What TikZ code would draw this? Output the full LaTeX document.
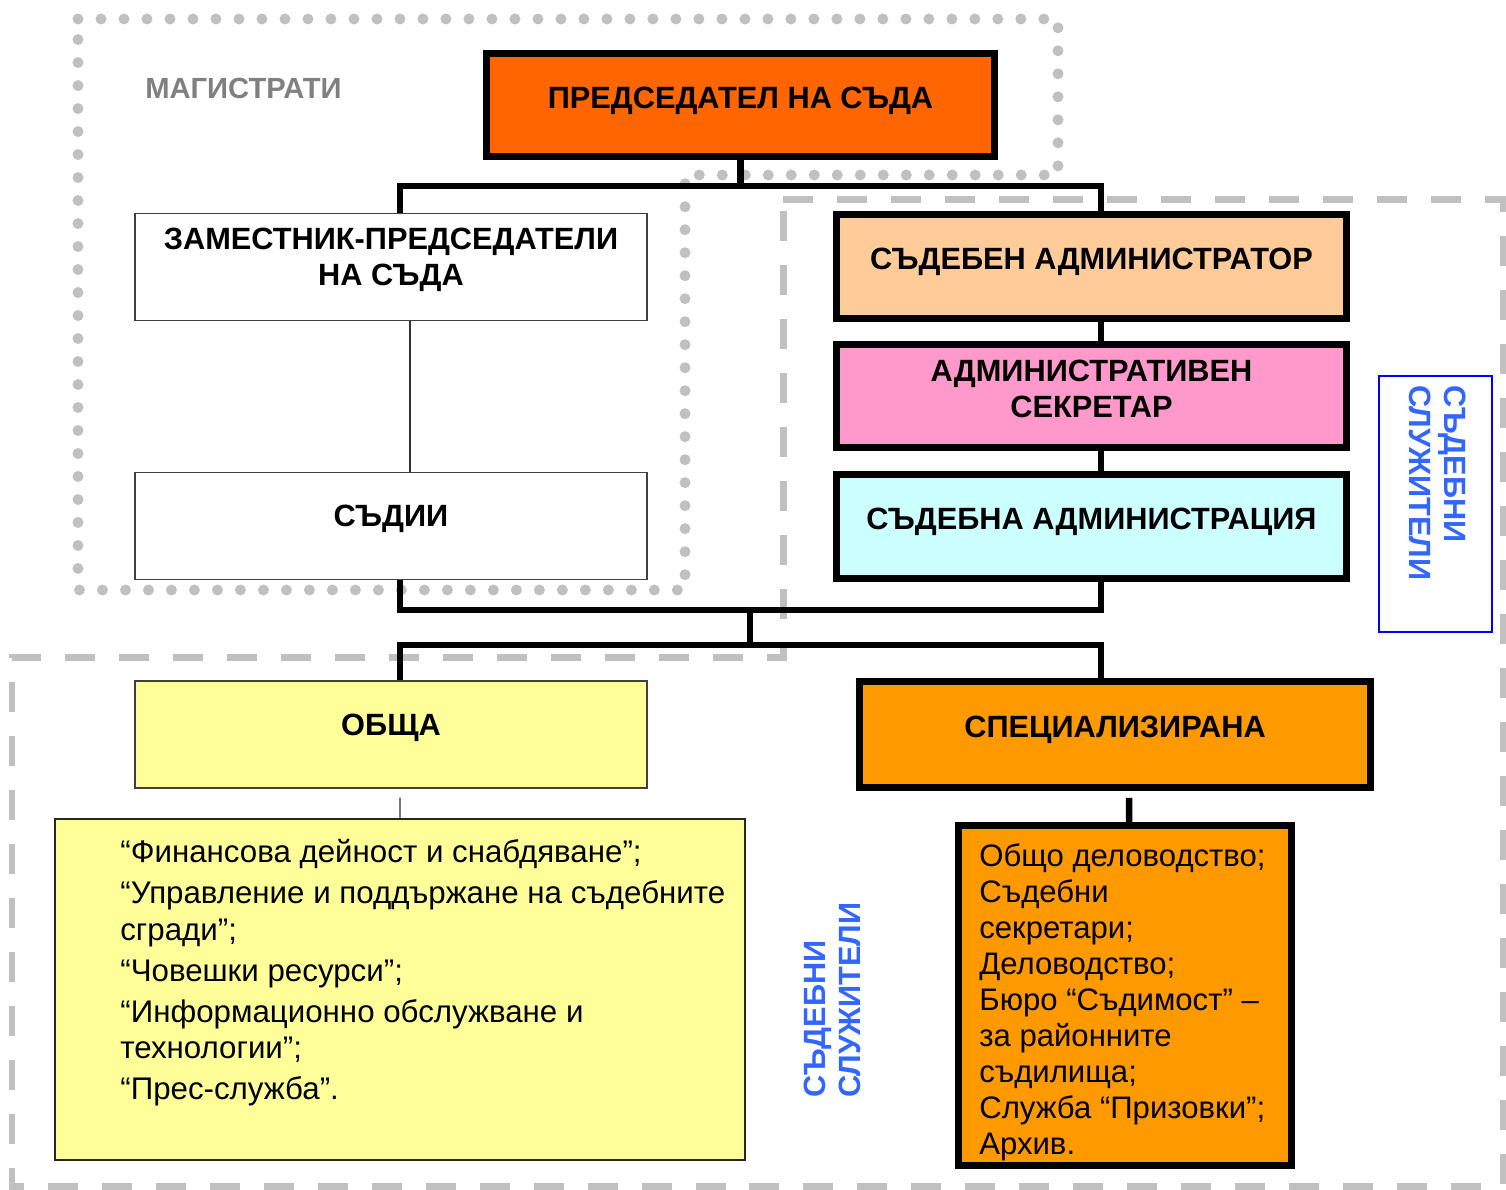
\documentclass[tikz,border=0pt]{standalone}
\usepackage{fontspec}
\setmainfont{Liberation Sans}

\definecolor{regiongray}{HTML}{C0C0C0}
\definecolor{headgray}{HTML}{808080}
\definecolor{predorange}{HTML}{FF6600}
\definecolor{admpeach}{HTML}{FFCC99}
\definecolor{sekpink}{HTML}{FF99CC}
\definecolor{sadmcyan}{HTML}{CCFFFF}
\definecolor{obshyellow}{HTML}{FFFF99}
\definecolor{specorange}{HTML}{FF9900}
\definecolor{textblue}{HTML}{3366FF}

\tikzset{
  dotline/.style={draw=regiongray, line width=0.22cm, line cap=round, dash pattern=on 0pt off 0.46cm},
  dashline/.style={draw=regiongray, line width=0.14cm, dash pattern=on 0.6cm off 0.48cm},
  thickbox/.style={draw=black, line width=0.14cm, align=center, text depth=0.3cm,
    font=\bfseries\fontsize{17.5}{20.5}\selectfont},
  thinbox/.style={draw=black!75, line width=0.03cm, align=center, text depth=0.4cm,
    font=\bfseries\fontsize{17.5}{20.5}\selectfont},
  conn/.style={draw=black, line width=0.13cm},
  thinline/.style={draw=black!80, line width=0.025cm},
  sidetext/.style={text=textblue, inner sep=0pt, align=left, font=\bfseries\fontsize{17.5}{19.9}\selectfont}
}

\begin{document}
\begin{tikzpicture}[x=0.02cm,y=-0.02cm]
\useasboundingbox (0,0) rectangle (1506,1189);

% regions
\draw[dotline] (78,19) -- (1058,19) -- (1058,175) -- (685,175) -- (685,590) -- (78,590) -- cycle;
\draw[dashline] (783,200) -- (1503,200) -- (1503,1186) -- (12,1186) -- (12,657) -- (783,657) -- cycle;
\node[anchor=west, inner sep=0pt, text=headgray, font=\bfseries\fontsize{16.6}{20}\selectfont] (magtitle) at (145,88) {МАГИСТРАТИ};

% magistrates
\node[thickbox, fill=predorange, minimum width=10.16cm, minimum height=2.06cm] (pred) at (740.5,105) {ПРЕДСЕДАТЕЛ НА СЪДА};
\node[thinbox, fill=white, minimum width=10.24cm, minimum height=2.14cm] (zam) at (391,267) {ЗАМЕСТНИК-ПРЕДСЕДАТЕЛИ\\НА СЪДА};
\node[thinbox, fill=white, minimum width=10.24cm, minimum height=2.14cm] (sad) at (391,526) {СЪДИИ};

% administration
\node[thickbox, fill=admpeach, minimum width=10.2cm, minimum height=2.08cm] (adm) at (1091.5,266.5) {СЪДЕБЕН АДМИНИСТРАТОР};
\node[thickbox, fill=sekpink, minimum width=10.2cm, minimum height=2.06cm] (sek) at (1091.5,396) {АДМИНИСТРАТИВЕН\\СЕКРЕТАР};
\node[thickbox, fill=sadmcyan, minimum width=10.2cm, minimum height=2.08cm] (sadm) at (1091.5,526.5) {СЪДЕБНА АДМИНИСТРАЦИЯ};
\node[draw=blue, line width=0.04cm, minimum width=2.26cm, minimum height=5.12cm] (sidebox) at (1435.5,504) {};
\node[sidetext, rotate=-90, anchor=north west] (sidetop) at (1466,385) {СЪДЕБНИ\\СЛУЖИТЕЛИ};

% general and specialised
\node[thinbox, fill=obshyellow, minimum width=10.24cm, minimum height=2.14cm] (obsh) at (391,734.5) {ОБЩА};
\node[thickbox, fill=specorange, minimum width=10.22cm, minimum height=2.12cm] (spec) at (1115,734.5) {СПЕЦИАЛИЗИРАНА};
\node[draw=black!85, line width=0.03cm, fill=obshyellow, minimum width=13.8cm, minimum height=6.82cm] (obl) at (400,989.5) {};
\node[anchor=north west, inner sep=0pt, align=left, font=\fontsize{17.8}{20.8}\selectfont] (obltext) at (120,839)
  {“Финансова дейност и снабдяване”;\\[0.09cm]
   “Управление и поддържане на съдебните\\сгради”;\\[0.09cm]
   “Човешки ресурси”;\\[0.09cm]
   “Информационно обслужване и\\технологии”;\\[0.09cm]
   “Прес-служба”.};
\node[draw=black, line width=0.14cm, fill=specorange, minimum width=6.66cm, minimum height=6.8cm] (spl) at (1125,995.5) {};
\node[anchor=north west, inner sep=0pt, align=left, font=\fontsize{17.7}{20.5}\selectfont] (spltext) at (979,843)
  {Общо деловодство;\\Съдебни\\секретари;\\Деловодство;\\Бюро “Съдимост” –\\за районните\\съдилища;\\Служба “Призовки”;\\Архив.};
\node[sidetext, rotate=90, anchor=north west] (sidelow) at (804,1098) {СЪДЕБНИ\\СЛУЖИТЕЛИ};

% connectors
\draw[conn] (pred.south) -- ++(0,26) coordinate (j1);
\draw[conn] ([xshift=0.18cm]zam.north) |- (j1) -| ([xshift=0.19cm]adm.north);
\draw[conn] ([xshift=0.19cm]adm.south) -- ([xshift=0.19cm]sek.north);
\draw[conn] ([xshift=0.19cm]sek.south) -- ([xshift=0.19cm]sadm.north);
\draw[conn] ([xshift=0.18cm]sad.south) -- ++(0,30) coordinate (j2) -| ([xshift=0.19cm]sadm.south);
\coordinate (j3) at (750,610);
\draw[conn] (j3) -- ++(0,35) coordinate (j4);
\draw[conn] ([xshift=0.18cm]obsh.north) |- (j4) -| ([xshift=-0.28cm]spec.north);
\draw[conn, shorten <=0.14cm] ([xshift=0.28cm]spec.south) -- ([xshift=0.08cm]spl.north);
\draw[thinline] ([xshift=0.38cm]zam.south) -- ([xshift=0.38cm]sad.north);
\draw[thinline, shorten <=0.18cm] ([xshift=0.18cm]obsh.south) -- (obl.north);
\end{tikzpicture}
\end{document}
